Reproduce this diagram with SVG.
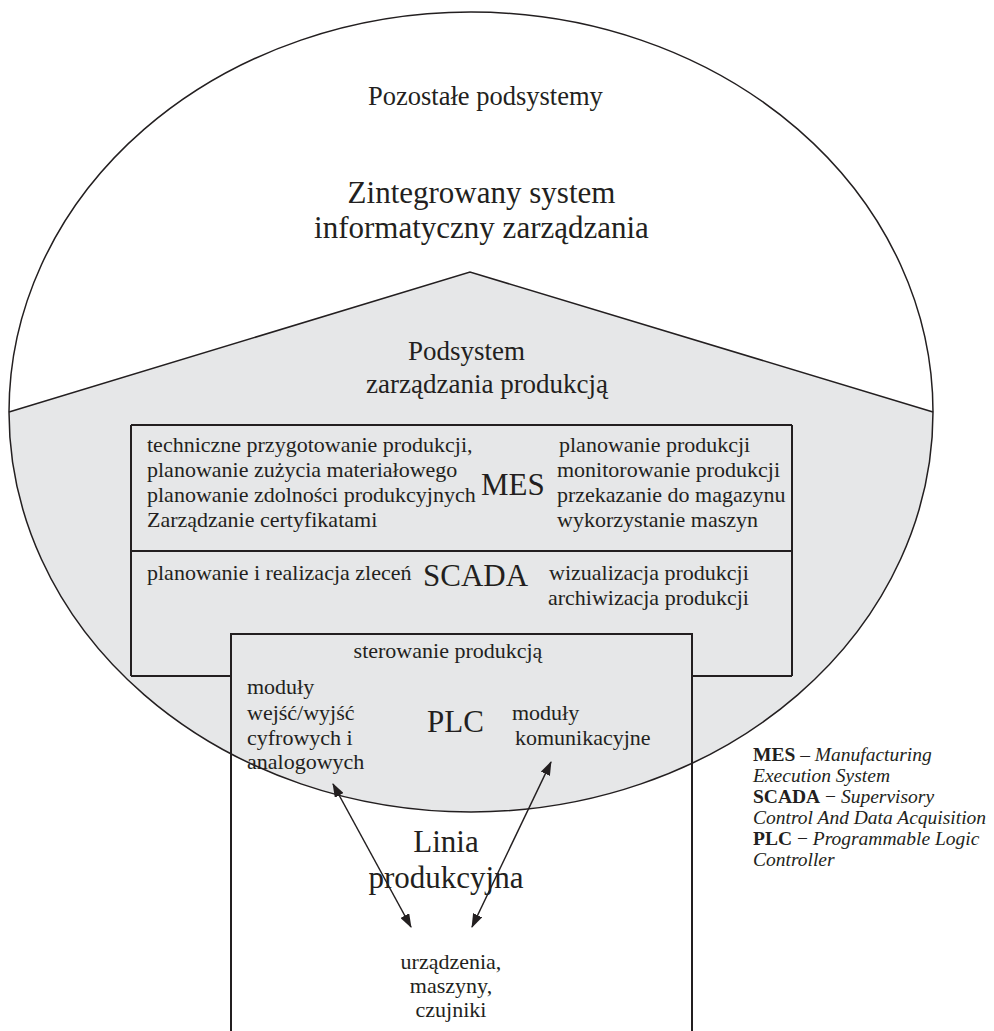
<svg xmlns="http://www.w3.org/2000/svg" width="994" height="1031" viewBox="0 0 994 1031">
<style>
text{font-family:"Liberation Serif","Times New Roman",serif;fill:#231f20}
.t22{font-size:22px}
.big{font-size:31px}
.lg{font-size:19.5px}
.ln{stroke:#231f20;fill:none;stroke-width:1.5}
.bx{stroke:#231f20;fill:none;stroke-width:2}
</style>
<defs>
<marker id="ah" markerUnits="userSpaceOnUse" markerWidth="14" markerHeight="10" refX="13" refY="5" orient="auto-start-reverse">
<path d="M0,0 L14,5 L0,10 z" fill="#231f20"/>
</marker>
</defs>
<rect width="994" height="1031" fill="#fff"/>
<g id="system">
<path d="M9 412 L470 272 L933 412 A462 400 0 0 1 471 812 A462 400 0 0 1 9 412 Z" fill="#e6e7e8"/>
<path class="ln" d="M9 412 A462 400 0 0 1 933 412" stroke-width="1.3"/>
<path class="ln" d="M933 412 A462 400 0 0 1 471 812 A462 400 0 0 1 9 412" stroke-width="2"/>
<path class="ln" d="M9 412 L470 272 L933 412"/>
<text x="368" y="105" font-size="26.5">Pozostałe podsystemy</text>
<text x="481.5" y="203" class="big" text-anchor="middle">Zintegrowany system</text>
<text x="481.5" y="238" class="big" text-anchor="middle">informatyczny zarządzania</text>
<text x="408" y="360" font-size="27">Podsystem</text>
<text x="366" y="393" font-size="27">zarządzania produkcją</text>
</g>
<g id="mes">
<path class="bx" d="M131 425 H792 M131 425 V676 M792 425 V676 M131 676 H231 M692 676 H792"/>
<text class="t22" x="147" y="452">techniczne przygotowanie produkcji,</text>
<text class="t22" x="147" y="477">planowanie zużycia materiałowego</text>
<text class="t22" x="147" y="502">planowanie zdolności produkcyjnych</text>
<text class="t22" x="147" y="527">Zarządzanie certyfikatami</text>
<text class="big" x="481" y="495">MES</text>
<text class="t22" x="559" y="452">planowanie produkcji</text>
<text class="t22" x="557" y="477">monitorowanie produkcji</text>
<text class="t22" x="557" y="502">przekazanie do magazynu</text>
<text class="t22" x="557" y="527">wykorzystanie maszyn</text>
</g>
<g id="scada">
<path class="bx" d="M131 551 H792"/>
<text class="t22" x="147" y="580">planowanie i realizacja zleceń</text>
<text class="big" x="423" y="586">SCADA</text>
<text class="t22" x="549" y="580">wizualizacja produkcji</text>
<text class="t22" x="548" y="605">archiwizacja produkcji</text>
</g>
<g id="plc">
<path class="bx" d="M231 1040 V634 H692 V1040"/>
<text class="t22" x="448" y="658" text-anchor="middle">sterowanie produkcją</text>
<text class="t22" x="247" y="694">moduły</text>
<text class="t22" x="247" y="720">wejść/wyjść</text>
<text class="t22" x="247" y="745">cyfrowych i</text>
<text class="t22" x="247" y="769">analogowych</text>
<text class="big" x="427" y="732">PLC</text>
<text class="t22" x="512" y="720">moduły</text>
<text class="t22" x="515" y="745">komunikacyjne</text>
</g>
<g id="linia">
<text class="big" x="446" y="852" text-anchor="middle">Linia</text>
<text class="big" x="446" y="888" text-anchor="middle">produkcyjna</text>
</g>
<g id="urzadzenia">
<text class="t22" x="451" y="969" text-anchor="middle">urządzenia,</text>
<text class="t22" x="451" y="993" text-anchor="middle">maszyny,</text>
<text class="t22" x="451" y="1017" text-anchor="middle">czujniki</text>
</g>
<g id="legend" class="lg">
<text x="753" y="761"><tspan font-weight="bold">MES</tspan> – <tspan font-style="italic">Manufacturing</tspan></text>
<text x="753" y="782" font-style="italic">Execution System</text>
<text x="753" y="803"><tspan font-weight="bold">SCADA</tspan> − <tspan font-style="italic">Supervisory</tspan></text>
<text x="753" y="824" font-style="italic">Control And Data Acquisition</text>
<text x="753" y="845"><tspan font-weight="bold">PLC</tspan> − <tspan font-style="italic">Programmable Logic</tspan></text>
<text x="753" y="866" font-style="italic">Controller</text>
</g>
<g id="connectors">
<line class="ln" x1="333" y1="784" x2="411" y2="927" marker-start="url(#ah)" marker-end="url(#ah)"/>
<line class="ln" x1="551" y1="762" x2="472" y2="927" marker-start="url(#ah)" marker-end="url(#ah)"/>
</g>
</svg>
